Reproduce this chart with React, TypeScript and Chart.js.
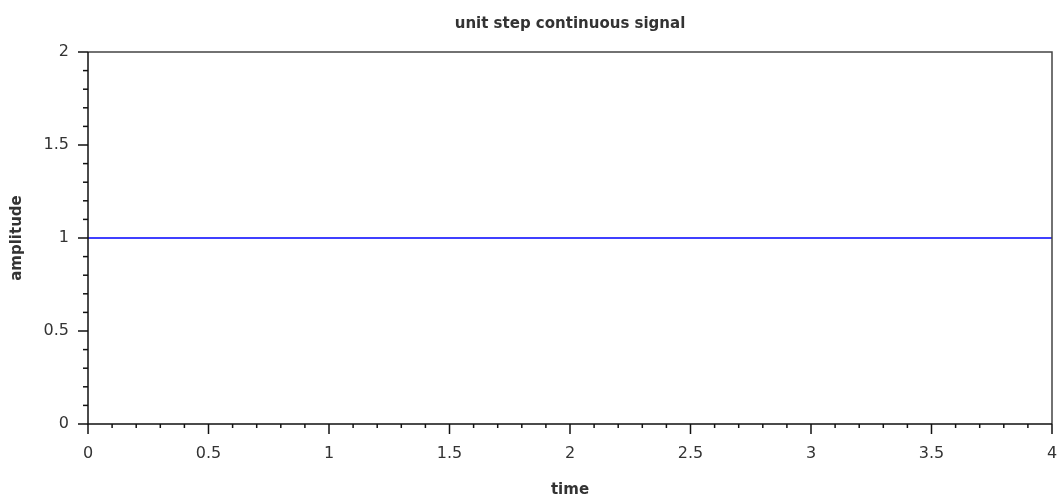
import React, { useEffect, useRef } from "react";
import { Chart, registerables } from "chart.js";

Chart.register(...registerables);

// Unit step sampled on 0..4 s
const time = [0, 1, 2, 3, 4];
const amplitude = [1, 1, 1, 1, 1];

const xRange = [0, 4];
const yRange = [0, 2];
const majorStep = 0.5;
const minorStep = 0.1;

const FONT = "'DejaVu Sans', 'Liberation Sans', sans-serif";

// Plain numeric labels: 0, 0.5, 1, 1.5 ...
const formatTick = (v: any) => String(Number(v));

// Draws the plot frame plus Scilab-style major/minor tick marks
const axisFrame = {
  id: "axisFrame",
  afterDraw(chart: any) {
    const { ctx, chartArea } = chart;
    const { left, right, top, bottom } = chartArea;
    const xs = chart.scales.x;
    const ys = chart.scales.y;
    ctx.save();
    ctx.lineCap = "butt";

    // top and right edges of the box
    ctx.strokeStyle = "#444";
    ctx.lineWidth = 1.5;
    ctx.beginPath();
    ctx.moveTo(left, top);
    ctx.lineTo(right, top);
    ctx.lineTo(right, bottom);
    ctx.stroke();

    // axis lines
    ctx.strokeStyle = "#111";
    ctx.beginPath();
    ctx.moveTo(left, top);
    ctx.lineTo(left, bottom);
    ctx.lineTo(right, bottom);
    ctx.stroke();

    const perMajor = Math.round(majorStep / minorStep);

    // x ticks, pointing down
    const nx = Math.round((xs.max - xs.min) / minorStep);
    for (let i = 0; i <= nx; i++) {
      const px = xs.getPixelForValue(xs.min + i * minorStep);
      const len = i % perMajor === 0 ? 10 : 4;
      ctx.beginPath();
      ctx.moveTo(px, bottom);
      ctx.lineTo(px, bottom + len);
      ctx.stroke();
    }

    // y ticks, pointing left
    const ny = Math.round((ys.max - ys.min) / minorStep);
    for (let i = 0; i <= ny; i++) {
      const py = ys.getPixelForValue(ys.min + i * minorStep);
      const len = i % perMajor === 0 ? 10 : 5;
      ctx.beginPath();
      ctx.moveTo(left, py);
      ctx.lineTo(left - len, py);
      ctx.stroke();
    }
    ctx.restore();
  },
};

export default function App() {
  const canvasRef = useRef<HTMLCanvasElement | null>(null);

  useEffect(() => {
    const canvas = canvasRef.current;
    if (!canvas) return;
    const chart = new Chart(canvas, {
      type: "line",
      data: {
        datasets: [
          {
            label: "u(t)",
            data: time.map((t, i) => ({ x: t, y: amplitude[i] })),
            borderColor: "#0000ff",
            borderWidth: 1.5,
            pointRadius: 0,
            fill: false,
            tension: 0,
          },
        ],
      },
      options: {
        responsive: false,
        animation: false,
        layout: { padding: { top: 0, left: 0, right: 12, bottom: 0 } },
        plugins: {
          legend: { display: false },
          tooltip: { enabled: false },
          title: {
            display: true,
            text: "unit step continuous signal",
            fullSize: false,
            color: "#333",
            font: { family: FONT, size: 15, weight: "bold", lineHeight: 1.2 },
            padding: { top: 15, bottom: 19 },
          },
        },
        scales: {
          x: {
            type: "linear",
            min: xRange[0],
            max: xRange[1],
            grid: { display: false, drawTicks: false },
            border: { display: false },
            ticks: {
              stepSize: majorStep,
              autoSkip: false,
              maxRotation: 0,
              padding: 20,
              color: "#333",
              font: { family: FONT, size: 16 },
              callback: formatTick,
            },
            title: {
              display: true,
              text: "time",
              color: "#333",
              font: { family: FONT, size: 15, weight: "bold", lineHeight: 1.2 },
              padding: { top: 0, bottom: 4 },
            },
            afterFit: (s: any) => {
              s.height = 79;
              s.paddingLeft = 0;
              s.paddingRight = 0;
            },
          },
          y: {
            type: "linear",
            min: yRange[0],
            max: yRange[1],
            grid: { display: false, drawTicks: false },
            border: { display: false },
            ticks: {
              stepSize: majorStep,
              padding: 19,
              color: "#333",
              font: { family: FONT, size: 16 },
              callback: formatTick,
            },
            title: {
              display: true,
              text: "amplitude",
              color: "#333",
              font: { family: FONT, size: 15, weight: "bold", lineHeight: 1.2 },
              padding: { top: 8, bottom: 0 },
            },
            afterFit: (s: any) => {
              s.width = 88;
              s.paddingTop = 0;
              s.paddingBottom = 0;
            },
          },
        },
      },
      plugins: [axisFrame],
    });
    return () => chart.destroy();
  }, []);

  return (
    <div style={{ position: "absolute", left: 0, top: 0, width: 1064, height: 503, background: "#fff" }}>
      <canvas ref={canvasRef} width={1064} height={503} style={{ display: "block" }} />
    </div>
  );
}
